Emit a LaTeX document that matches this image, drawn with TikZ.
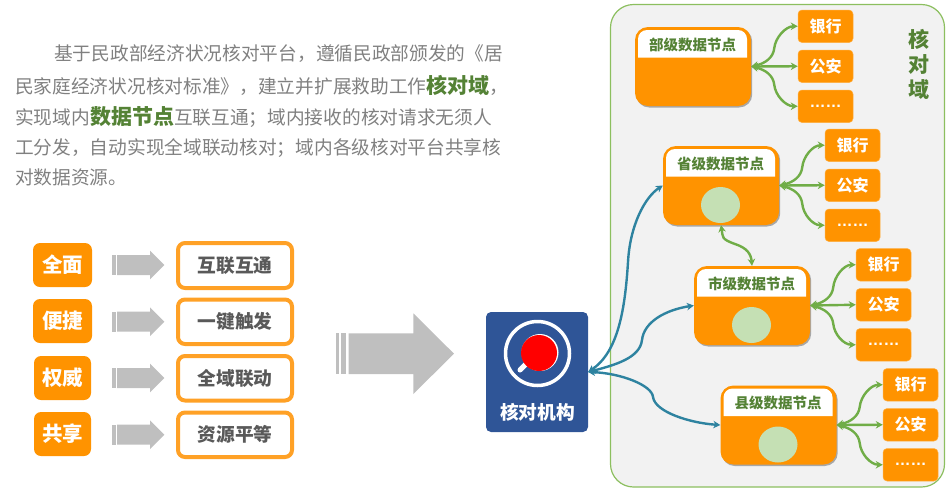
\documentclass[tikz,border=0pt]{standalone}
\usepackage{fontspec}
\setmainfont{Noto Sans CJK SC}
\newfontfamily\latfont{Liberation Sans}
\usetikzlibrary{arrows.meta,shadows,shapes.geometric,calc}
\definecolor{orangeA}{HTML}{FF9300}
\definecolor{orangeB}{HTML}{FFA126}
\definecolor{greenT}{HTML}{548235}
\definecolor{greenL}{HTML}{70AD47}
\definecolor{greenE}{HTML}{C5E0B4}
\definecolor{panelB}{HTML}{8CBF5F}
\definecolor{panelF}{HTML}{F2F2F2}
\definecolor{tealL}{HTML}{2E83A0}
\definecolor{navyB}{HTML}{2F5597}
\definecolor{grayT}{HTML}{808080}
\definecolor{grayD}{HTML}{595959}
\definecolor{grayA}{HTML}{BFBFBF}
\newcommand{\fsz}[1]{\fontsize{#1}{#1}\selectfont}
\newcommand{\rectnode}[7]{%
  \node[#2,minimum width={((#5)-(#3))*1pt},minimum height={((#6)-(#4))*1pt}] (#1) at ({((#3)+(#5))/2},{((#4)+(#6))/2}) {#7};}
\newcommand{\grayarrow}[2]{% name, centre y
  \fill[grayA] (112,#2-10) rectangle (113.6,#2+10);
  \fill[grayA] (114.4,#2-10) rectangle (116.2,#2+10);
  \fill[grayA] (117,#2-10) -- (150,#2-10) -- (150,#2-14.4) -- (164.3,#2) -- (150,#2+14.4) -- (150,#2+10) -- (117,#2+10) -- cycle;}
\newcommand{\datanode}[5]{% name, x0, y0, label, ellipse(1/0)
  \rectnode{#1}{databox}{#2}{#3}{#2+116}{#3+79}{}
  \fill[white] (#2+3,#3+30.5) -- (#2+3,#3+12) arc[start angle=180,end angle=90,x radius=9,y radius=-9] -- (#2+103,#3+3) arc[start angle=90,end angle=0,x radius=9,y radius=-9] -- (#2+112,#3+30.5) -- cycle;
  \node[headtext] (#1head) at (#2+57.5,#3+17.5) {#4};
  \ifnum#5=1 \node[dataell] (#1ell) at (#2+57.5,#3+59) {};\fi}
\newcommand{\leaves}[3]{% prefix, x0, y0
  \rectnode{#1a}{leafbox}{#2}{#3}{#2+55}{#3+32.5}{银行}
  \rectnode{#1b}{leafbox}{#2}{#3+40}{#2+55}{#3+72.5}{公安}
  \rectnode{#1c}{leafbox}{#2}{#3+80}{#2+55}{#3+112.5}{\latfont ……}
  \coordinate (#1up) at ($(#1.east)+(23,-18)$);
  \coordinate (#1dn) at ($(#1.east)+(23,18)$);
  \draw[greenconn] (#1.east) .. controls +(14,-3) and +(-1,9) .. (#1up) .. controls +(1,-11) and +(-12,0) .. (#1a.west);
  \draw[greenconn] (#1.east) -- (#1b.west);
  \draw[greenconn] (#1.east) .. controls +(14,3) and +(-1,-9) .. (#1dn) .. controls +(1,11) and +(-12,0) .. (#1c.west);}
\tikzset{
  panelbox/.style={draw=panelB,fill=panelF,line width=1.2pt,rounded corners=23pt,inner sep=0pt},
  databox/.style={fill=orangeA,rounded corners=13pt,inner sep=0pt,drop shadow={shadow xshift=1.2pt,shadow yshift=-1.5pt,opacity=.45,fill=black!70}},
  dataell/.style={ellipse,fill=greenE,minimum width=39pt,minimum height=36pt,inner sep=0pt},
  headtext/.style={text=greenT,font=\fsz{14.5}\bfseries,inner sep=0pt},
  leafbox/.style={fill=orangeA,draw=orangeA!75!white,line width=.5pt,rounded corners=4pt,inner sep=0pt,text=white,font=\fsz{16}\bfseries},
  tagbox/.style={fill=orangeA,rounded corners=7pt,inner sep=0pt,text=white,font=\fsz{20.5}\bfseries},
  valuebox/.style={draw=orangeB,fill=white,line width=4pt,rounded corners=7pt,inner sep=0pt,text=grayD,font=\fsz{18.7}\bfseries},
  corebox/.style={fill=navyB,rounded corners=5pt,inner sep=0pt},
  paratext/.style={anchor=west,inner sep=0pt,text=grayT,font=\fsz{18.7}},
  greenconn/.style={draw=greenL,line width=2.4pt,{Stealth[length=7pt,width=7.5pt]}-{Stealth[length=7pt,width=7.5pt]}},
  tealconn/.style={draw=tealL,line width=2.4pt,{Stealth[length=7pt,width=7.5pt]}-{Stealth[length=7pt,width=7.5pt]}},
}
\newcommand{\hl}[1]{{\bfseries\color{greenT}\fsz{21}#1}}
\begin{document}
\begin{tikzpicture}[x=1pt,y=-1pt]
\useasboundingbox (0,0) rectangle (947,491);
% paragraph
\node[paratext] (l1) at (54,54) {基于民政部经济状况核对平台，遵循民政部颁发的《居};
\node[paratext] (l2) at (15,85) {民家庭经济状况核对标准》，建立并扩展救助工作\hl{核对域}，};
\node[paratext] (l3) at (15,117) {实现域内\hl{数据节点}互联互通；域内接收的核对请求无须人};
\node[paratext] (l4) at (15,148) {工分发，自动实现全域联动核对；域内各级核对平台共享核};
\node[paratext] (l5) at (15,177) {对数据资源。};
% left rows
\rectnode{t1}{tagbox}{33}{243}{92}{287}{全面}
\rectnode{t2}{tagbox}{33}{299}{92}{343}{便捷}
\rectnode{t3}{tagbox}{34}{356}{91}{400}{权威}
\rectnode{t4}{tagbox}{34}{412}{91}{456}{共享}
\grayarrow{a1}{265}
\grayarrow{a2}{321.7}
\grayarrow{a3}{378}
\grayarrow{a4}{434.7}
\rectnode{v1}{valuebox}{178}{243}{292}{288}{互联互通}
\rectnode{v2}{valuebox}{178}{299.5}{292}{344}{一键触发}
\rectnode{v3}{valuebox}{178}{356}{292}{400.5}{全域联动}
\rectnode{v4}{valuebox}{178}{412.5}{292}{457}{资源平等}
% big arrow
\fill[grayA] (336,333.3) rectangle (339.3,374);
\fill[grayA] (340.7,333.3) rectangle (346,374);
\fill[grayA] (348.7,333.3) -- (413.3,333.3) -- (413.3,313.3) -- (454,353.7) -- (413.3,394) -- (413.3,374) -- (348.7,374) -- cycle;
% panel
\rectnode{panel}{panelbox}{610.5}{4.5}{944.5}{487}{}
\node[text=greenT,font=\fontsize{21}{25}\selectfont\bfseries,align=center,inner sep=0pt] (dom) at (919,64) {核\\对\\域};
% data nodes
\datanode{bu}{635}{27}{部级数据节点}{0}
\datanode{sheng}{663}{146}{省级数据节点}{1}
\datanode{shi}{694}{266}{市级数据节点}{1}
\datanode{xian}{720.5}{385.5}{县级数据节点}{1}
\leaves{bu}{798}{10}
\leaves{sheng}{825}{129}
\leaves{shi}{856}{248.5}
\leaves{xian}{883}{368.5}
\coordinate (mid) at (735,244);
\draw[greenconn] (sheng.south) .. controls +(2,12) and +(-14,-5) .. (mid) .. controls +(12,4) and +(-1,-12) .. (shi.north);
% core
\rectnode{core}{corebox}{486}{312}{588}{432}{}
\draw[white,line width=3.5pt] (537.5,353.5) circle[radius=32];
\fill[white] (540,352.5) circle[radius=18.5];
\draw[white,line width=5pt,line cap=round] (520,370) -- (527,363);
\fill[red] (539,353) circle[radius=18];
\node[text=white,font=\fsz{18.7}\bfseries,inner sep=0pt] (corelabel) at (537.5,412) {核对机构};
% teal connectors
\coordinate (t1) at (628,262);
\coordinate (t2) at (642,340);
\coordinate (t3) at (653,397);
\draw[tealconn] (core.east) .. controls (618,352) and (625,310) .. (t1) .. controls (630,225) and (645,197) .. (sheng.west);
\draw[tealconn] (core.east) .. controls (615,365) and (640,358) .. (t2) .. controls (644,322) and (665,310) .. (shi.west);
\draw[tealconn] (core.east) .. controls (620,373) and (652,385) .. (t3) .. controls (655,412) and (690,423) .. (xian.west);
\end{tikzpicture}
\end{document}
